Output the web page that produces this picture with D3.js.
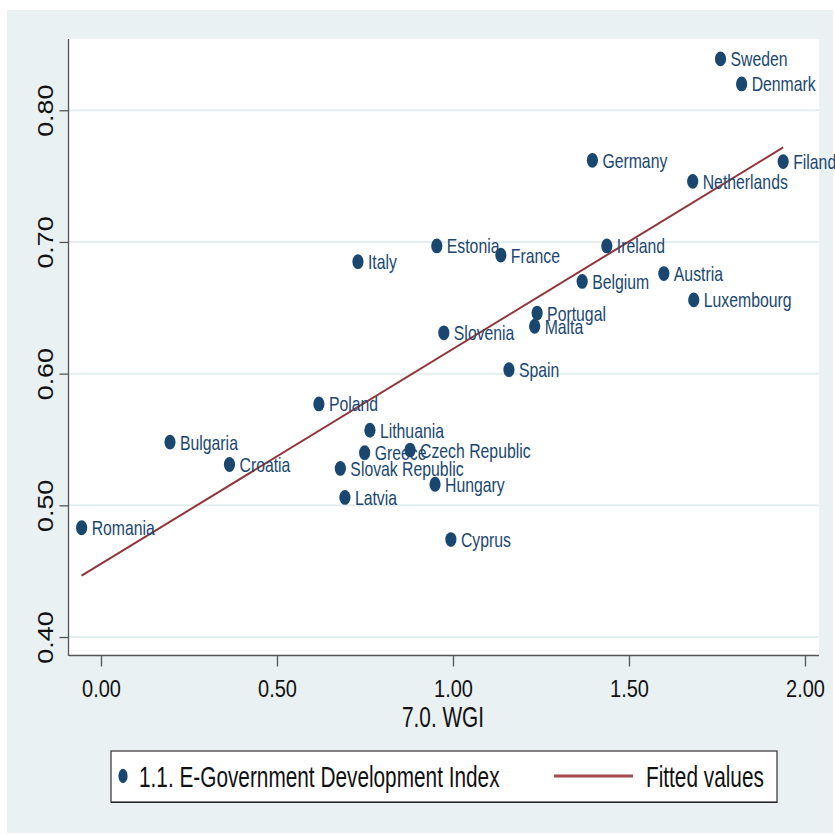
<!DOCTYPE html>
<html>
<head>
<meta charset="utf-8">
<script src="https://cdn.jsdelivr.net/npm/d3@7"></script>
<style>
  html, body { margin: 0; padding: 0; background: #ffffff; }
  svg { display: block; }
  text { font-family: "Liberation Sans", Arial, sans-serif; }
</style>
</head>
<body>
<svg id="chart" width="835" height="835"></svg>
<script>
// ---- data ----
const countries = ["Sweden","Denmark","Filand","Germany","Netherlands","Estonia","France","Ireland","Italy","Belgium","Austria","Luxembourg","Portugal","Malta","Slovenia","Spain","Poland","Lithuania","Bulgaria","Czech Republic","Greece","Croatia","Slovak Republic","Hungary","Latvia","Romania","Cyprus"];
const wgi  = [1.760,1.820,1.938,1.396,1.681,0.954,1.136,1.437,0.730,1.367,1.599,1.684,1.239,1.232,0.974,1.159,0.619,0.764,0.196,0.878,0.749,0.365,0.680,0.949,0.693,-0.055,0.994];
const egdi = [0.839,0.820,0.761,0.762,0.746,0.697,0.690,0.697,0.685,0.670,0.676,0.656,0.646,0.636,0.631,0.603,0.577,0.557,0.548,0.542,0.540,0.531,0.528,0.516,0.506,0.483,0.474];
const fitX = [-0.055, 1.938];
const fitY = [0.4466, 0.7718];
const xTicks = [0, 0.5, 1, 1.5, 2];
const yTicks = [0.4, 0.5, 0.6, 0.7, 0.8];
const xTitle = "7.0. WGI";
const legendLabels = ["1.1. E-Government Development Index", "Fitted values"];

// ---- drawing ----
const navy = "#1a476f", maroon = "#90353b", bg = "#e9f1f3";
const svg = d3.select("#chart");
const plot = {left: 69, right: 819, top: 39, bottom: 656};

svg.append("rect").attr("x", 7).attr("y", 10).attr("width", 826).attr("height", 823).attr("fill", bg);
svg.append("rect").attr("x", plot.left).attr("y", plot.top)
   .attr("width", plot.right - plot.left).attr("height", plot.bottom - plot.top).attr("fill", "#ffffff");

const x = d3.scaleLinear().domain([-0.0909, 2.0398]).range([plot.left, plot.right]);
const y = d3.scaleLinear().domain([0.3856, 0.8541]).range([plot.bottom, plot.top]);

// grid lines
svg.append("g").selectAll("line").data(yTicks).join("line")
  .attr("x1", plot.left).attr("x2", plot.right)
  .attr("y1", d => y(d)).attr("y2", d => y(d))
  .attr("stroke", "#e4eef0").attr("stroke-width", 2);

// y axis
const yAxis = svg.append("g").attr("transform", `translate(${plot.left - 0.5},0)`)
  .call(d3.axisLeft(y).tickValues(yTicks).tickSize(9).tickSizeOuter(0).tickFormat(d3.format(".2f")));
yAxis.select(".domain").attr("stroke", "#555").attr("stroke-width", 1.3)
  .attr("d", `M0,${plot.top}V${plot.bottom}`);
yAxis.selectAll(".tick line").attr("stroke", "#555").attr("stroke-width", 1.3);
yAxis.selectAll(".tick text")
  .attr("x", null).attr("dy", null).attr("fill", "#111")
  .attr("text-anchor", "middle").attr("font-size", 22)
  .attr("transform", "translate(-16,0) rotate(-90) scale(1.22,1)");

// x axis
const xAxis = svg.append("g").attr("transform", `translate(0,${plot.bottom - 0.5})`)
  .call(d3.axisBottom(x).tickValues(xTicks).tickSize(11).tickSizeOuter(0).tickFormat(d3.format(".2f")));
xAxis.select(".domain").attr("stroke", "#555").attr("stroke-width", 1.3)
  .attr("d", `M${plot.left},0H${plot.right}`);
xAxis.selectAll(".tick line").attr("stroke", "#555").attr("stroke-width", 1.3);
xAxis.selectAll(".tick text")
  .attr("y", null).attr("dy", null).attr("fill", "#111")
  .attr("text-anchor", "middle").attr("font-size", 20)
  .attr("transform", "translate(0,41.5) scale(1,1.23)");

// axis title
svg.append("text").attr("text-anchor", "middle").attr("font-size", 20.8).attr("fill", "#111")
  .attr("transform", `translate(${(plot.left + plot.right) / 2 - 1},727) scale(1,1.39)`)
  .text(xTitle);

// fitted line
const pts = fitX.map((d, i) => [d, fitY[i]]);
svg.append("path").datum(pts)
  .attr("d", d3.line().x(d => x(d[0])).y(d => y(d[1])))
  .attr("fill", "none").attr("stroke", maroon).attr("stroke-width", 2);

// markers
const data = countries.map((c, i) => ({name: c, x: wgi[i], y: egdi[i]}));
svg.append("g").selectAll("ellipse").data(data).join("ellipse")
  .attr("cx", d => x(d.x)).attr("cy", d => y(d.y))
  .attr("rx", 5.6).attr("ry", 7.4).attr("fill", navy);

// point labels
svg.append("g").selectAll("text").data(data).join("text")
  .attr("font-size", 15.8).attr("fill", navy)
  .attr("transform", d => `translate(${x(d.x) + 10},${y(d.y) + 7.5}) scale(1,1.24)`)
  .text(d => d.name);

// legend
const lg = svg.append("g");
lg.append("rect").attr("x", 111).attr("y", 751).attr("width", 666).attr("height", 51)
  .attr("fill", "#ffffff").attr("stroke", "#333").attr("stroke-width", 1.2);
lg.append("line").attr("x1", 111).attr("x2", 777.5).attr("y1", 802.5).attr("y2", 802.5)
  .attr("stroke", "#222").attr("stroke-width", 1);
lg.append("ellipse").attr("cx", 123).attr("cy", 776).attr("rx", 4.6).attr("ry", 7.2).attr("fill", navy);
lg.append("text").attr("font-size", 20.8).attr("fill", "#111")
  .attr("transform", "translate(139,787) scale(1,1.42)").text(legendLabels[0]);
lg.append("line").attr("x1", 554).attr("x2", 633).attr("y1", 776).attr("y2", 776)
  .attr("stroke", "#a4494f").attr("stroke-width", 2.8);
lg.append("text").attr("font-size", 20.8).attr("fill", "#111")
  .attr("transform", "translate(646,787) scale(1,1.42)").text(legendLabels[1]);
</script>
</body>
</html>
